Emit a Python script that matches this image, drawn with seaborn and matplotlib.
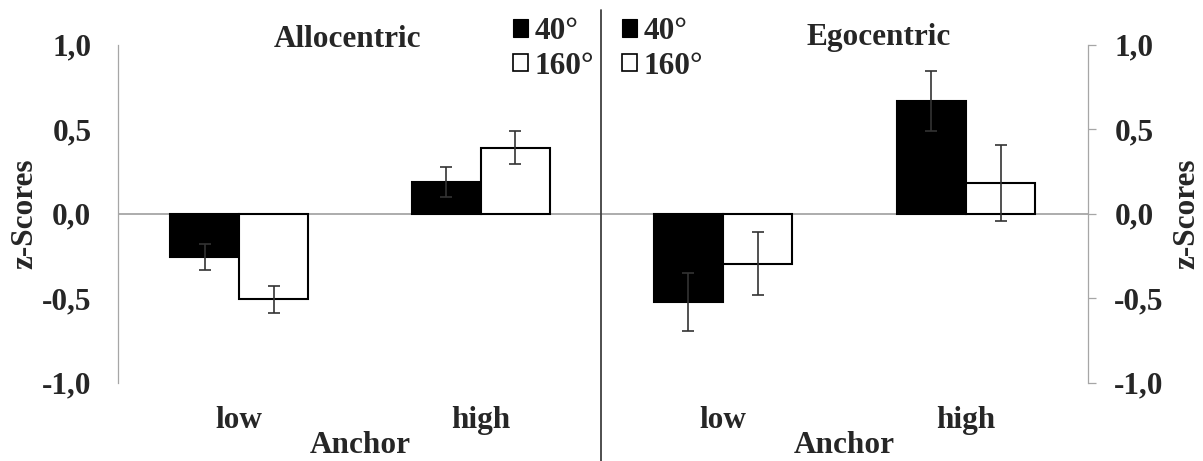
import numpy as np
import pandas as pd
import matplotlib
matplotlib.use("Agg")
import matplotlib.pyplot as plt
import seaborn as sns
from matplotlib.patches import Patch
from matplotlib.lines import Line2D

# ---------------- data ----------------
anchors = ["low", "high"]
angles = ["40°", "160°"]
panels = ["Allocentric", "Egocentric"]

allo_40 = [-0.26, 0.185]
allo_160 = [-0.508, 0.39]
allo_40_err = [0.077, 0.088]
allo_160_err = [0.081, 0.10]

ego_40 = [-0.525, 0.665]
ego_160 = [-0.296, 0.18]
ego_40_err = [0.17, 0.178]
ego_160_err = [0.187, 0.225]

yticks = [-1.0, -0.5, 0.0, 0.5, 1.0]
ytick_labels = ["-1,0", "-0,5", "0,0", "0,5", "1,0"]

# ---------------- style ----------------
sns.set_theme(style="white")
plt.rcParams["font.family"] = ["Liberation Serif", "DejaVu Serif"]
plt.rcParams["font.weight"] = "bold"
plt.rcParams["axes.labelweight"] = "bold"

FS = 22.5
W, H = 1203, 461
GRAY = "#A6A6A6"

fig = plt.figure(figsize=(W / 100, H / 100), dpi=100)


def px_rect(x0, x1, ytop, ybot):
    return [x0 / W, 1 - ybot / H, (x1 - x0) / W, (ybot - ytop) / H]


ax1 = fig.add_axes(px_rect(118.3, 601.5, 44.5, 382.5))
ax2 = fig.add_axes(px_rect(601.5, 1087.5, 44.5, 382.5))

datasets = [
    (ax1, allo_40, allo_160, allo_40_err, allo_160_err),
    (ax2, ego_40, ego_160, ego_40_err, ego_160_err),
]

for ax, v40, v160, e40, e160 in datasets:
    df = pd.DataFrame({
        "Anchor": anchors * 2,
        "Angle": [angles[0]] * 2 + [angles[1]] * 2,
        "z": list(v40) + list(v160),
    })
    ax.axhline(0, color=GRAY, lw=1.3, zorder=0.5)
    sns.barplot(data=df, x="Anchor", y="z", hue="Angle", order=anchors,
                hue_order=angles, palette={angles[0]: "black", angles[1]: "white"},
                edgecolor="black", linewidth=1.5, width=0.57, gap=0,
                errorbar=None, legend=False, saturation=1, ax=ax, zorder=2)
    # error bars at the bar positions given by seaborn
    bars = sorted(ax.patches, key=lambda p: p.get_x())
    xs = [p.get_x() + p.get_width() / 2 for p in bars]
    ys = [v40[0], v160[0], v40[1], v160[1]]
    errs = [e40[0], e160[0], e40[1], e160[1]]
    ax.errorbar(xs, ys, yerr=errs, fmt="none", ecolor="#333333",
                elinewidth=1.2, capsize=4, capthick=1.2, zorder=3)

    ax.set_xlim(-0.5, 1.5)
    ax.set_ylim(-1.0, 1.0)
    ax.set_yticks(yticks)
    ax.set_yticklabels(ytick_labels)
    ax.set_facecolor("none")
    for s in ax.spines.values():
        s.set_visible(False)
    ax.tick_params(axis="x", length=0, pad=17, labelsize=FS)
    ax.tick_params(axis="y", direction="out", length=5.8, width=0.9,
                   color=GRAY, pad=13.5, labelsize=FS)
    ax.set_xlabel("Anchor", fontsize=FS, fontweight="bold")
    ax.xaxis.set_label_coords(0.5, -0.143)
    ax.set_ylabel("z-Scores", fontsize=FS, fontweight="bold")

ax1.spines["left"].set_visible(True)
ax1.spines["left"].set_color(GRAY)
ax1.spines["left"].set_linewidth(0.9)
ax1.yaxis.labelpad = 2

ax2.yaxis.tick_right()
ax2.yaxis.set_label_position("right")
ax2.spines["right"].set_visible(True)
ax2.spines["right"].set_color(GRAY)
ax2.spines["right"].set_linewidth(0.9)
ax2.yaxis.labelpad = 6

# titles
fig.text(347 / W, 1 - 46.7 / H, panels[0], ha="center", va="baseline",
         fontsize=FS, fontweight="bold")
fig.text(879 / W, 1 - 45.5 / H, panels[1], ha="center", va="baseline",
         fontsize=FS, fontweight="bold")

# legends
for lx in (513, 622):
    handles = [Patch(facecolor="black", edgecolor="black", lw=0.8),
               Patch(facecolor="white", edgecolor="black", lw=1.2)]
    fig.legend(handles, angles, loc="upper left",
               bbox_to_anchor=(lx / W, 1 - 17 / H), bbox_transform=fig.transFigure,
               frameon=False, fontsize=FS, handlelength=0.48, handleheight=0.48,
               handletextpad=0.22, labelspacing=0.18, borderpad=0, borderaxespad=0)

# divider
fig.add_artist(Line2D([601 / W, 601 / W], [0, 1 - 10 / H],
                      transform=fig.transFigure, color="#404040", lw=1.3))

fig.savefig("out.png", dpi=100)
